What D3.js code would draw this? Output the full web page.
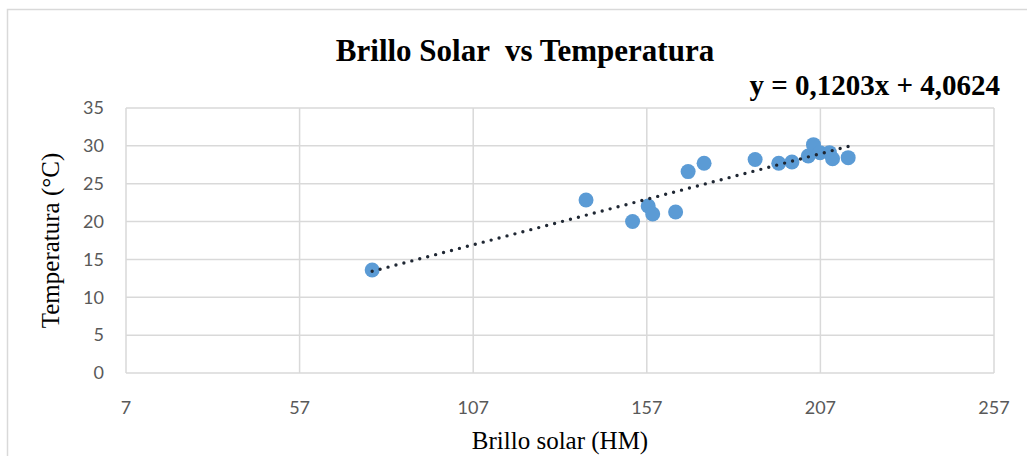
<!DOCTYPE html>
<html lang="es">
  <head>
    <meta charset="UTF-8" />
    <title>Brillo Solar vs Temperatura</title>
    <script src="https://d3js.org/d3.v7.min.js"></script>
    <style>
      body {
        margin: 0;
        background: #fff;
      }
      .tick-label {
        font-family: Lato, sans-serif;
        font-size: 18px;
        fill: #595959;
      }
      .axis-title {
        font-family: "Liberation Serif", "Times New Roman", serif;
        font-size: 25px;
        fill: #000;
      }
      .grid line {
        stroke: #d9d9d9;
        stroke-width: 1.5;
      }
    </style>
  </head>
  <body>
    <svg width="1027" height="456" id="chart"></svg>

    <script>
      // brillo solar (HM) vs temperatura (°C)
      const brillo = [
        77.9, 139.5, 152.9, 157.4, 158.7, 165.3, 168.9, 173.5, 188.2, 195,
        198.8, 203.5, 205, 206.9, 209.6, 210.5, 215,
      ];
      const temperatura = [
        13.6, 22.85, 20.0, 22.06, 21.0, 21.27, 26.6, 27.7, 28.2, 27.7,
        27.87, 28.66, 30.16, 29.1, 29.1, 28.3, 28.44,
      ];
      const xTicks = [7, 57, 107, 157, 207, 257];
      const yTicks = [0, 5, 10, 15, 20, 25, 30, 35];
      const slope = 0.1203;
      const intercept = 4.0624;

      const points = brillo.map((b, i) => ({ x: b, y: temperatura[i] }));

      const svg = d3.select("#chart");
      const width = +svg.attr("width");
      const height = +svg.attr("height");

      // outer chart frame
      svg
        .append("rect")
        .attr("x", 7.5)
        .attr("y", 9.5)
        .attr("width", width + 10)
        .attr("height", height + 10)
        .attr("fill", "#fff")
        .attr("stroke", "#d9d9d9")
        .attr("stroke-width", 1.5);

      const plot = { left: 126, right: 994, top: 108, bottom: 373 };

      const xScale = d3
        .scaleLinear()
        .domain([7, 257])
        .range([plot.left, plot.right]);
      const yScale = d3
        .scaleLinear()
        .domain([0, 35])
        .range([plot.bottom, plot.top]);

      // gridlines
      const grid = svg.append("g").attr("class", "grid");
      grid
        .selectAll(".vline")
        .data(xTicks)
        .join("line")
        .attr("x1", (d) => xScale(d))
        .attr("x2", (d) => xScale(d))
        .attr("y1", plot.top)
        .attr("y2", plot.bottom);
      grid
        .selectAll(".hline")
        .data(yTicks)
        .join("line")
        .attr("x1", plot.left)
        .attr("x2", plot.right)
        .attr("y1", (d) => yScale(d))
        .attr("y2", (d) => yScale(d));

      // tick labels
      svg
        .selectAll(".xtick")
        .data(xTicks)
        .join("text")
        .attr("class", "tick-label")
        .attr("x", (d) => xScale(d))
        .attr("y", plot.bottom + 41)
        .attr("text-anchor", "middle")
        .text((d) => d);

      svg
        .selectAll(".ytick")
        .data(yTicks)
        .join("text")
        .attr("class", "tick-label")
        .attr("x", plot.left - 22)
        .attr("y", (d) => yScale(d))
        .attr("dy", "0.35em")
        .attr("text-anchor", "end")
        .text((d) => d);

      // points
      svg
        .selectAll(".dot")
        .data(points)
        .join("circle")
        .attr("cx", (d) => xScale(d.x))
        .attr("cy", (d) => yScale(d.y))
        .attr("r", 7.5)
        .attr("fill", "#5b9bd5");

      // linear trendline across the data range
      const [xMin, xMax] = d3.extent(brillo);
      const trend = [xMin, xMax].map((x) => ({ x, y: slope * x + intercept }));
      svg
        .append("path")
        .datum(trend)
        .attr("fill", "none")
        .attr("stroke", "#1f2733")
        .attr("stroke-width", 3.4)
        .attr("stroke-linecap", "round")
        .attr("stroke-dasharray", "0 8.2")
        .attr(
          "d",
          d3
            .line()
            .x((d) => xScale(d.x))
            .y((d) => yScale(d.y))
        );

      // titles
      svg
        .append("text")
        .attr("x", 525)
        .attr("y", 61)
        .attr("text-anchor", "middle")
        .attr("font-family", "Liberation Serif, serif")
        .attr("font-weight", "bold")
        .attr("font-size", 31)
        .style("white-space", "pre")
        .text("Brillo Solar  vs Temperatura");

      svg
        .append("text")
        .attr("x", 1000)
        .attr("y", 95)
        .attr("text-anchor", "end")
        .attr("font-family", "Liberation Serif, serif")
        .attr("font-weight", "bold")
        .attr("font-size", 29)
        .text(
          `y = ${String(slope).replace(".", ",")}x + ${String(intercept).replace(".", ",")}`
        );

      svg
        .append("text")
        .attr("class", "axis-title")
        .attr("x", (plot.left + plot.right) / 2)
        .attr("y", 449)
        .attr("text-anchor", "middle")
        .text("Brillo solar (HM)");

      svg
        .append("text")
        .attr("class", "axis-title")
        .attr(
          "transform",
          `translate(59,${(plot.top + plot.bottom) / 2}) rotate(-90)`
        )
        .attr("text-anchor", "middle")
        .text("Temperatura (°C)");
    </script>
  </body>
</html>
